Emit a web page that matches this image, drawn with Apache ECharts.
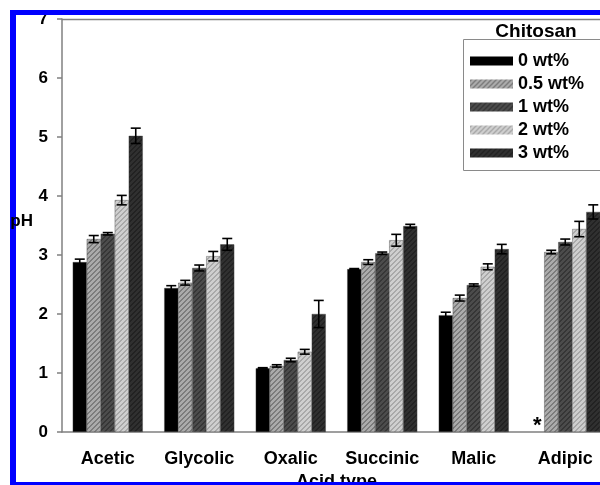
<!DOCTYPE html>
<html>
<head>
<meta charset="utf-8">
<script src="https://cdn.jsdelivr.net/npm/echarts@6/dist/echarts.min.js"></script>
<style>
html,body{margin:0;padding:0;background:#fff;}
#c{width:600px;height:485px;}
</style>
</head>
<body>
<div id="c"></div>
<script>
const categories = ['Acetic', 'Glycolic', 'Oxalic', 'Succinic', 'Malic', 'Adipic'];
const seriesNames = ['0 wt%', '0.5 wt%', '1 wt%', '2 wt%', '3 wt%'];
const ph0   = [2.88, 2.44, 1.08, 2.76, 1.98, null];
const ph05  = [3.27, 2.53, 1.12, 2.88, 2.27, 3.05];
const ph1   = [3.36, 2.78, 1.22, 3.03, 2.49, 3.22];
const ph2   = [3.93, 2.98, 1.36, 3.25, 2.80, 3.44];
const ph3   = [5.02, 3.18, 2.00, 3.49, 3.10, 3.73];
const err0  = [0.05, 0.04, 0.01, 0.01, 0.05, null];
const err05 = [0.06, 0.04, 0.02, 0.04, 0.05, 0.03];
const err1  = [0.02, 0.05, 0.03, 0.02, 0.02, 0.05];
const err2  = [0.08, 0.08, 0.04, 0.10, 0.05, 0.13];
const err3  = [0.13, 0.10, 0.23, 0.03, 0.08, 0.12];
const missingMark = {category: 'Adipic', series: 0, text: '*'};

const values = [ph0, ph05, ph1, ph2, ph3];
const errors = [err0, err05, err1, err2, err3];

function hatch(base, stripe, period, width) {
  const cv = document.createElement('canvas');
  cv.width = period; cv.height = period;
  const ctx = cv.getContext('2d');
  const img = ctx.createImageData(period, period);
  const p = (h) => [parseInt(h.substr(1,2),16), parseInt(h.substr(3,2),16), parseInt(h.substr(5,2),16)];
  const b = p(base), s = p(stripe);
  for (let y = 0; y < period; y++) {
    for (let x = 0; x < period; x++) {
      const on = ((x + y) % period) < width;
      const c = on ? s : b;
      const i = (y * period + x) * 4;
      img.data[i] = c[0]; img.data[i+1] = c[1]; img.data[i+2] = c[2]; img.data[i+3] = 255;
    }
  }
  ctx.putImageData(img, 0, 0);
  return {image: cv, repeat: 'repeat'};
}

const fills = [
  '#000000',
  hatch('#ababab', '#7c7c7c', 5, 2),
  hatch('#4c4c4c', '#363636', 5, 2),
  hatch('#cfcfcf', '#a9a9a9', 5, 2),
  hatch('#303030', '#222222', 5, 2)
];

const FONT = '"Liberation Sans", Arial, sans-serif';
const BAR_W = 14;

const series = [];
seriesNames.forEach((name, k) => {
  series.push({
    name: name,
    type: 'bar',
    barWidth: BAR_W,
    barGap: '0%',
    data: values[k],
    itemStyle: {color: fills[k], borderColor: '#444', borderWidth: 0.4},
    z: 2
  });
});
seriesNames.forEach((name, k) => {
  const data = [];
  values[k].forEach((v, i) => {
    if (v != null && errors[k][i] != null) data.push([i, v, errors[k][i]]);
  });
  series.push({
    type: 'custom',
    name: 'err' + k,
    data: data,
    encode: {x: 0, y: 1},
    z: 5,
    silent: true,
    renderItem: function (params, api) {
      const ci = api.value(0), v = api.value(1), e = api.value(2);
      const cx = api.coord([ci, v])[0] + (k - 2) * BAR_W;
      const yt = api.coord([ci, v + e])[1];
      const yb = api.coord([ci, v - e])[1];
      const half = 5;
      const st = {stroke: '#000', lineWidth: 1.6};
      return {
        type: 'group',
        children: [
          {type: 'line', shape: {x1: cx, y1: yt, x2: cx, y2: yb}, style: st},
          {type: 'line', shape: {x1: cx - half, y1: yt, x2: cx + half, y2: yt}, style: st},
          {type: 'line', shape: {x1: cx - half, y1: yb, x2: cx + half, y2: yb}, style: st}
        ]
      };
    }
  });
});
series.push({
  type: 'custom',
  name: 'missing',
  data: [[categories.indexOf(missingMark.category), 0]],
  encode: {x: 0, y: 1},
  z: 6,
  silent: true,
  renderItem: function (params, api) {
    const pt = api.coord([api.value(0), 0]);
    return {
      type: 'text',
      style: {
        text: missingMark.text,
        x: pt[0] + (missingMark.series - 2) * BAR_W,
        y: pt[1] - 17,
        align: 'center',
        verticalAlign: 'top',
        font: 'bold 22px ' + FONT,
        fill: '#000'
      }
    };
  }
});

const chart = echarts.init(document.getElementById('c'), null, {renderer: 'canvas'});
chart.setOption({
  animation: false,
  backgroundColor: '#fff',
  grid: {left: 62, top: 19, width: 549, height: 413, containLabel: false, outerBoundsMode: 'none'},
  legend: {
    data: seriesNames,
    orient: 'vertical',
    left: 470,
    top: 52,
    itemWidth: 43,
    itemHeight: 9,
    itemGap: 5,
    padding: 0,
    selectedMode: false,
    icon: 'rect',
    itemStyle: {borderWidth: 0},
    textStyle: {fontFamily: FONT, fontWeight: 'bold', fontSize: 18, lineHeight: 18, color: '#000'}
  },
  xAxis: {
    type: 'category',
    data: categories,
    axisLine: {lineStyle: {color: '#808080', width: 1.5}},
    axisTick: {alignWithLabel: true, length: 5, lineStyle: {color: '#808080', width: 1.5}},
    axisLabel: {interval: 0, hideOverlap: false, fontFamily: FONT, fontWeight: 'bold', fontSize: 18, color: '#000', margin: 18},
    name: 'Acid type',
    nameLocation: 'middle',
    nameGap: 39,
    nameTextStyle: {fontFamily: FONT, fontWeight: 'bold', fontSize: 18, color: '#000'}
  },
  yAxis: {
    type: 'value',
    min: 0, max: 7, interval: 1,
    splitLine: {show: false},
    axisLine: {show: true, lineStyle: {color: '#808080', width: 1.5}},
    axisTick: {show: true, length: 5, lineStyle: {color: '#808080', width: 1.5}},
    axisLabel: {fontFamily: FONT, fontWeight: 'bold', fontSize: 17, color: '#000', margin: 14}
  },
  graphic: [
    {type: 'line', shape: {x1: 62, y1: 19.5, x2: 600, y2: 19.5}, style: {stroke: '#808080', lineWidth: 1.5}, z: 1},
    {type: 'rect', shape: {x: 463.5, y: 39.5, width: 200, height: 131}, style: {fill: 'none', stroke: '#8a8a8a', lineWidth: 1}, z: 1},
    {type: 'text', style: {text: 'Chitosan', x: 536, y: 32, align: 'center', verticalAlign: 'middle', font: 'bold 19px ' + FONT, fill: '#000'}, z: 10},
    {type: 'rect', shape: {x: 10, y: 10, width: 6, height: 475}, style: {fill: '#0000ff'}, z: 50},
    {type: 'rect', shape: {x: 10, y: 10, width: 590, height: 5}, style: {fill: '#0000ff'}, z: 50},
    {type: 'rect', shape: {x: 10, y: 482, width: 590, height: 3}, style: {fill: '#0000ff'}, z: 50},
    {type: 'text', style: {text: 'pH', x: 33, y: 221, align: 'right', verticalAlign: 'middle', font: 'bold 17px ' + FONT, fill: '#000'}, z: 60}
  ],
  series: series
});
</script>
</body>
</html>
